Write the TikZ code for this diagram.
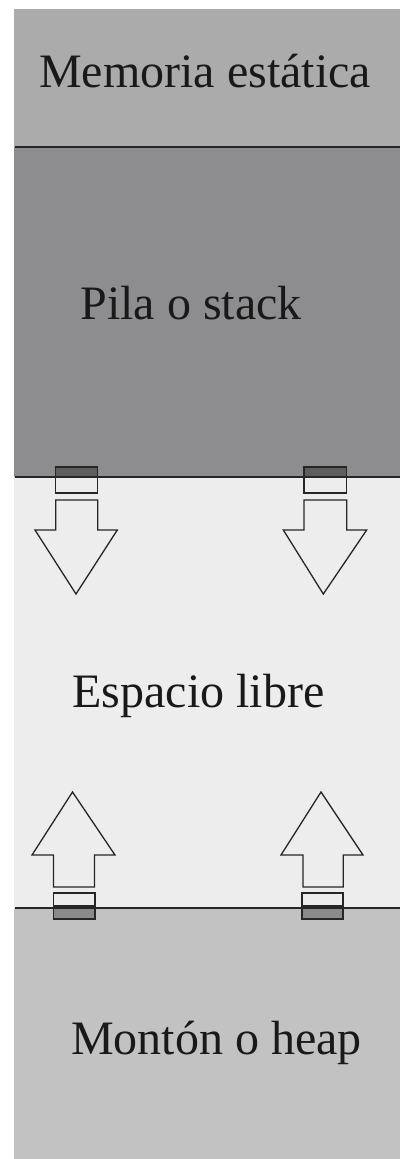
\documentclass[tikz,border=0pt]{standalone}
\usepackage{fontspec}
\setmainfont{Liberation Serif}
\definecolor{cstatic}{HTML}{ABABAB}
\definecolor{cstack}{HTML}{8D8D8F}
\definecolor{cfree}{HTML}{EDEDED}
\definecolor{cheap}{HTML}{C2C2C2}
\definecolor{cband}{HTML}{5E5E5E}
\definecolor{cband2}{HTML}{8A8A8A}
\tikzset{
  lbl/.style={anchor=base, inner sep=0pt, text=black!90, font=\fontsize{48}{58}\selectfont},
  sep/.style={draw=black!85, line width=1.6pt},
  arr/.style={draw=black!85, line width=1.3pt, fill=cfree, line join=miter},
  band/.style={draw=black!85, line width=1.2pt}
}
\begin{document}
\begin{tikzpicture}[x=1pt,y=-1pt]
\useasboundingbox (0,0) rectangle (400,1159);
\fill[white] (0,0) rectangle (400,1159);
% regions
\fill[cstatic] (14,9) rectangle (400,147);
\fill[cstack] (14,147) rectangle (400,477);
\fill[cfree] (14,477) rectangle (400,908);
\fill[cheap] (14,908) rectangle (400,1159);
\draw[sep] (15,147) -- (400,147);
% top arrows bands
\draw[band, fill=cband] (55.5,467) rectangle (97.5,477);
\draw[band, fill=cfree] (55.5,477) rectangle (97.5,493);
\draw[band, fill=cband] (304,467) rectangle (346.5,477);
\draw[band, fill=cfree] (304,477) rectangle (346.5,493);
% bottom arrows bands
\draw[band, fill=cfree] (53.5,893) rectangle (95,906);
\draw[band, fill=cband2] (53.5,906) rectangle (95,919);
\draw[band, fill=cfree] (302,893) rectangle (343,906);
\draw[band, fill=cband2] (302,906) rectangle (343,919);
\draw[sep] (15,477) -- (400,477);
\draw[sep] (15,908) -- (400,908);
% down arrows
\draw[arr] (55.7,500) -- (97.7,500) -- (97.7,530) -- (117.3,530) -- (76,594) -- (35,530) -- (55.7,530) -- cycle;
\draw[arr] (304,500) -- (346.7,500) -- (346.7,530) -- (366.7,530) -- (323.3,594) -- (283.3,530) -- (304,530) -- cycle;
% up arrows
\draw[arr] (53.5,887) -- (94.5,887) -- (94.5,855) -- (115,855) -- (72.5,792) -- (32,855) -- (53.5,855) -- cycle;
\draw[arr] (303,887) -- (343.3,887) -- (343.3,855) -- (363,855) -- (321,792) -- (281,855) -- (303,855) -- cycle;
% labels
\node[lbl] (static) at (205,87) {Memoria estática};
\node[lbl] (stack) at (191,319) {Pila o stack};
\node[lbl] (free) at (198.5,707) {Espacio libre};
\node[lbl] (heap) at (216.5,1054) {Montón o heap};
\end{tikzpicture}
\end{document}
